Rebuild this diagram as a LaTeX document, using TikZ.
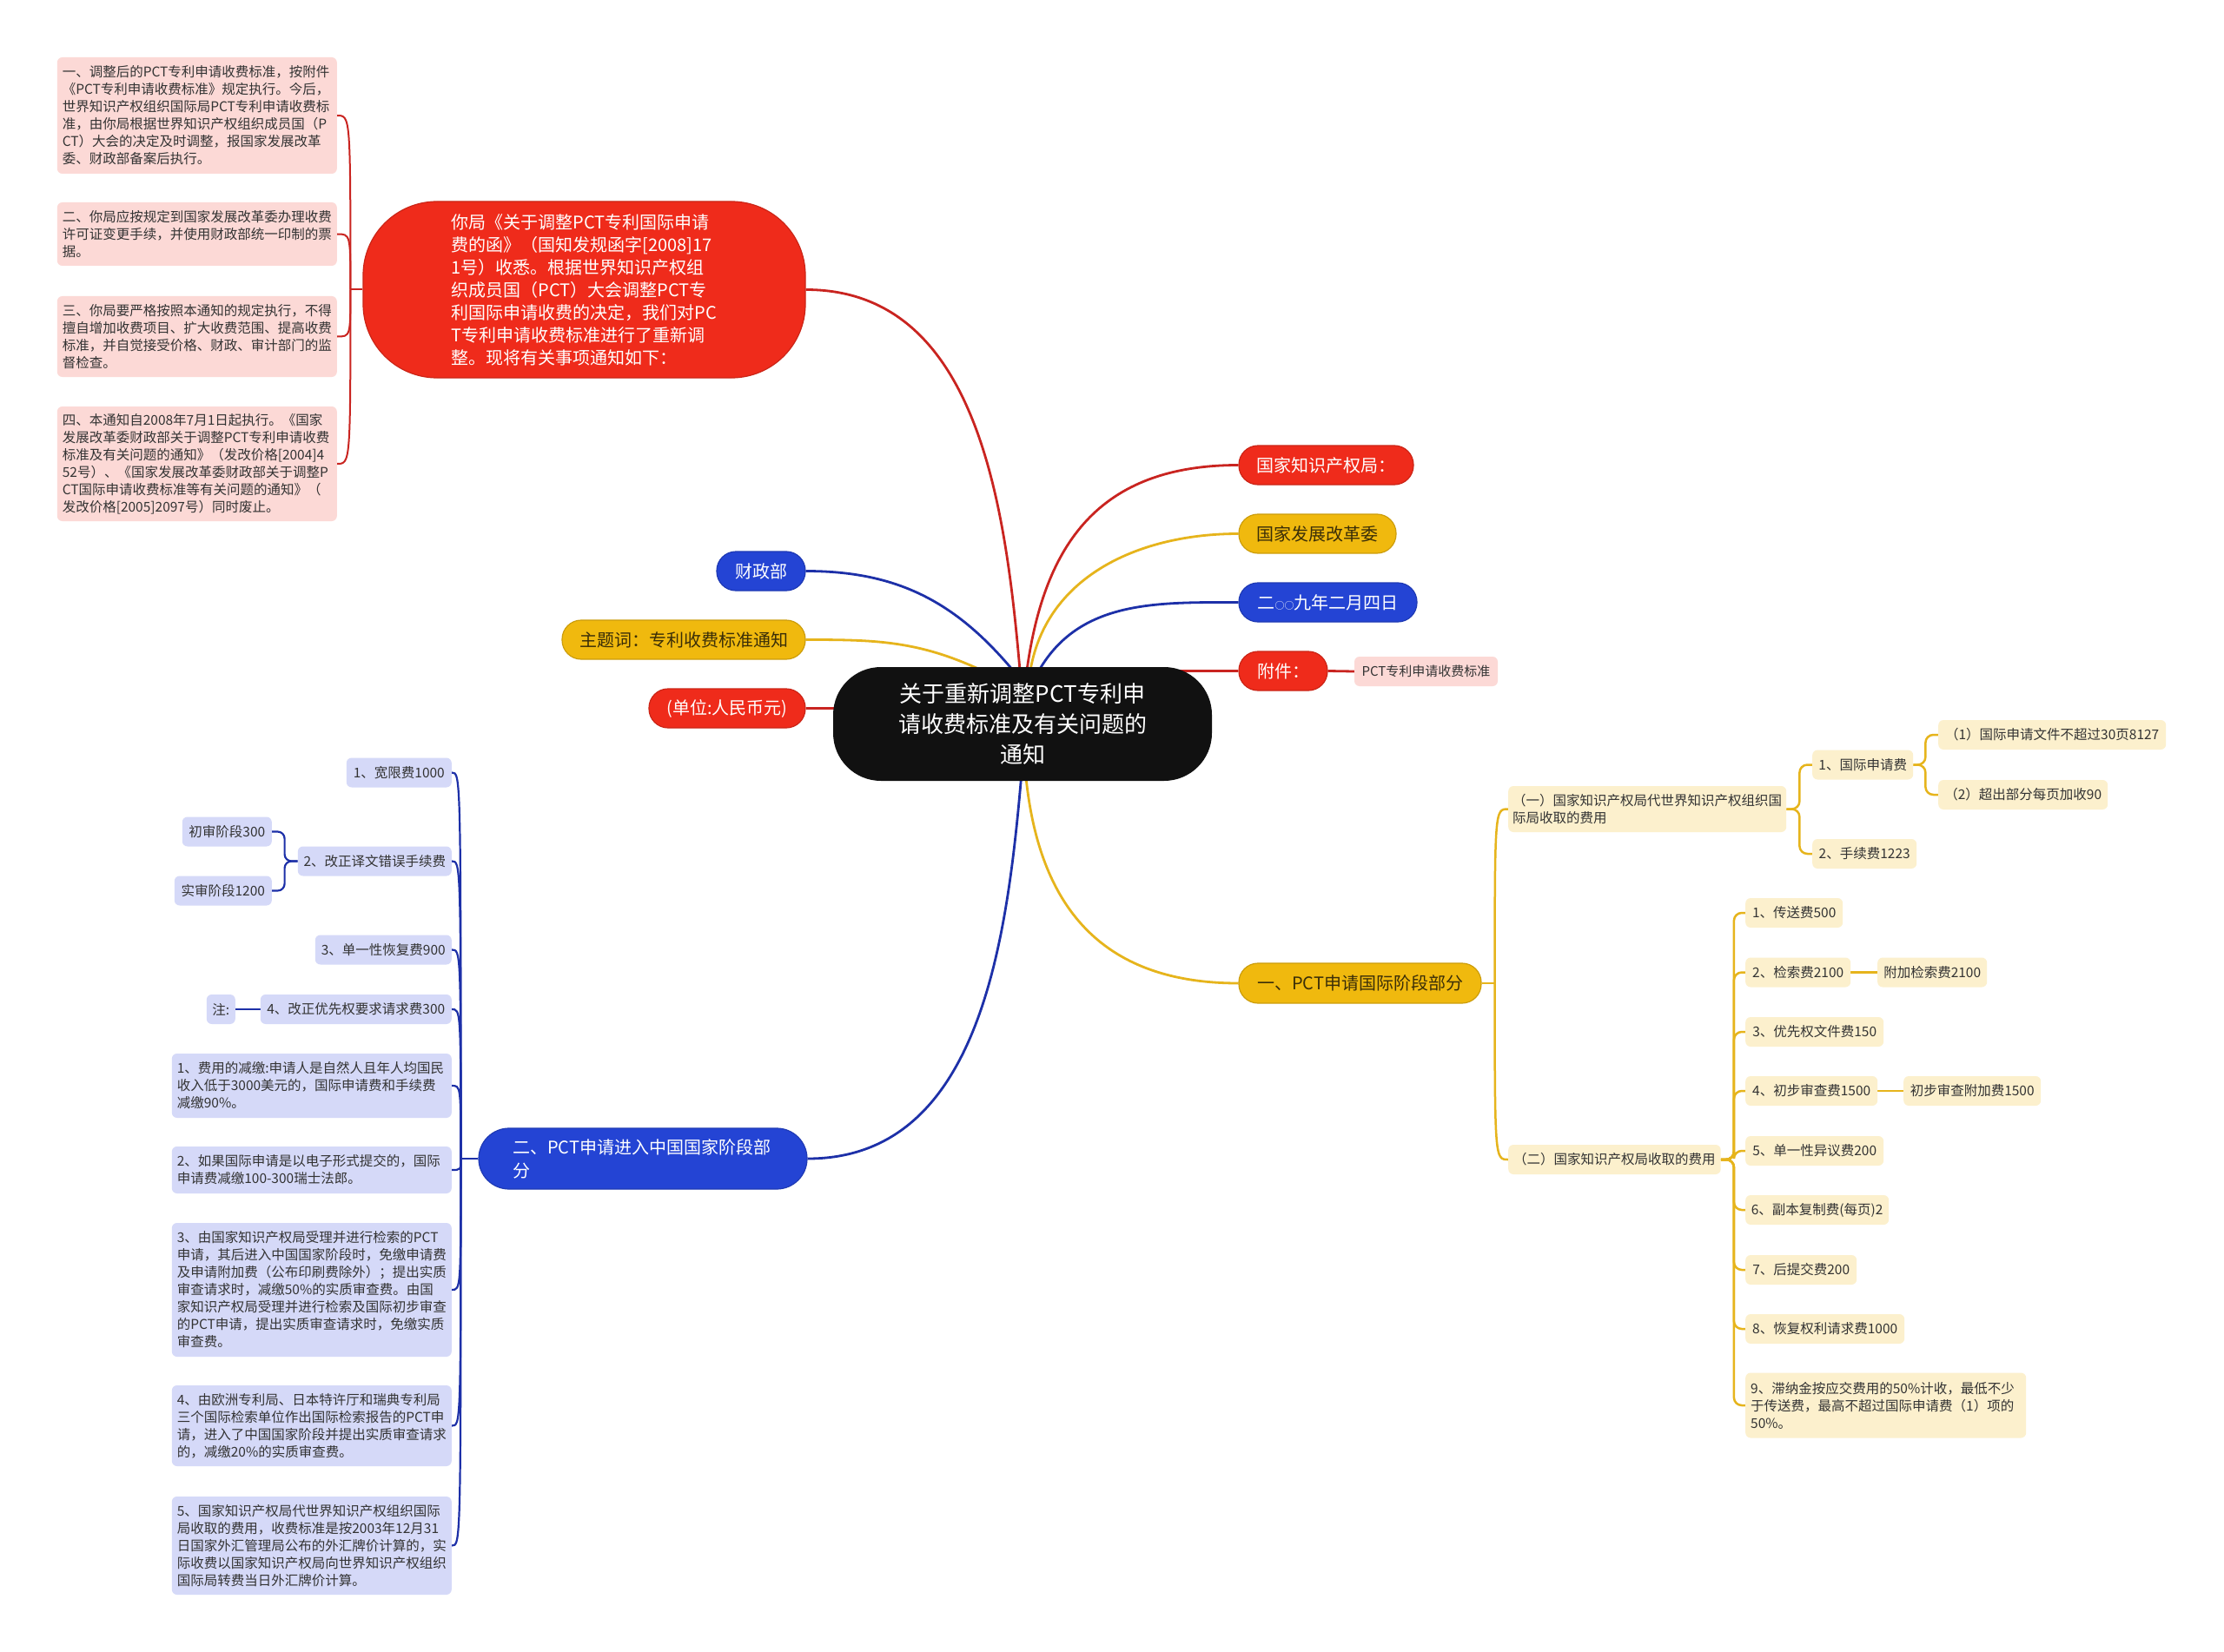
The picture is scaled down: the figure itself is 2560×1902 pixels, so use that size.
\documentclass[tikz,border=0pt]{standalone}
\usepackage{fontspec}
\setmainfont{Noto Sans CJK SC}
\usetikzlibrary{backgrounds,calc}
\definecolor{cRed}{HTML}{EF2B1B}
\definecolor{cRedLine}{HTML}{C92420}
\definecolor{cYel}{HTML}{F0B90E}
\definecolor{cYelLine}{HTML}{E6B41C}
\definecolor{cBlue}{HTML}{2444D4}
\definecolor{cBlueLine}{HTML}{1D30A8}
\definecolor{cBlack}{HTML}{111111}
\definecolor{cPink}{HTML}{FCD9D6}
\definecolor{cLav}{HTML}{D5D9F8}
\definecolor{cLYel}{HTML}{FCF0CD}
\definecolor{cText}{HTML}{333333}
\definecolor{cDark}{HTML}{3A2E08}
\tikzset{
  rootbox/.style={fill=cBlack, text=white, rounded corners=55pt, inner sep=0pt,
    font=\fontsize{26pt}{35pt}\selectfont, align=center},
  bigred/.style={fill=cRed, draw=cRed!85!black, line width=1.2pt, text=white, rounded corners=85pt,
    inner sep=0pt, font=\fontsize{20pt}{26pt}\selectfont, align=left},
  pill/.style={rounded corners=22pt, inner xsep=12pt, inner ysep=0pt, minimum height=45pt,
    line width=1.2pt, font=\fontsize{20pt}{27pt}\selectfont},
  redpill/.style={pill, fill=cRed, draw=cRed!85!black, text=white},
  yelpill/.style={pill, fill=cYel, draw=cYel!85!black, text=cDark},
  bluepill/.style={pill, fill=cBlue, draw=cBlue!85!black, text=white},
  leaf/.style={rounded corners=6pt, inner xsep=6pt, inner ysep=0pt, minimum height=34pt,
    text=cText, font=\fontsize{15.5pt}{20pt}\selectfont},
  pinkleaf/.style={leaf, fill=cPink},
  lavleaf/.style={leaf, fill=cLav},
  yelleaf/.style={leaf, fill=cLYel},
  mainR/.style={draw=cRedLine, line width=2.8pt},
  mainY/.style={draw=cYelLine, line width=2.8pt},
  mainB/.style={draw=cBlueLine, line width=2.8pt},
  subR/.style={draw=cRedLine, line width=2pt},
  subY/.style={draw=cYelLine, line width=2.5pt},
  subB/.style={draw=cBlueLine, line width=2.2pt},
}
\begin{document}
\begin{tikzpicture}[x=1pt,y=-1pt]
\useasboundingbox (0,0) rectangle (2560,1902);

% ---------- root ----------
\node[rootbox, minimum width=436pt, minimum height=131pt] (root) at (1177,833.5)
  {关于重新调整PCT专利申\\请收费标准及有关问题的\\通知};

% ---------- red big ----------
\node[bigred, minimum width=509pt, minimum height=203pt] (rb) at (672.5,333.5)
  {你局《关于调整PCT专利国际申请\\费的函》（国知发规函字[2008]17\\1号）收悉。根据世界知识产权组\\织成员国（PCT）大会调整PCT专\\利国际申请收费的决定，我们对PC\\T专利申请收费标准进行了重新调\\整。现将有关事项通知如下：};

% pink notes
\node[pinkleaf, anchor=east, text width=310pt, align=left, minimum height=134pt] (n1) at (388,133)
  {一、调整后的PCT专利申请收费标准，按附件\\《PCT专利申请收费标准》规定执行。今后，\\世界知识产权组织国际局PCT专利申请收费标\\准，由你局根据世界知识产权组织成员国（P\\CT）大会的决定及时调整，报国家发展改革\\委、财政部备案后执行。};
\node[pinkleaf, anchor=east, text width=310pt, align=left, minimum height=73pt] (n2) at (388,269.5)
  {二、你局应按规定到国家发展改革委办理收费\\许可证变更手续，并使用财政部统一印制的票\\据。};
\node[pinkleaf, anchor=east, text width=310pt, align=left, minimum height=93pt] (n3) at (388,387.5)
  {三、你局要严格按照本通知的规定执行，不得\\擅自增加收费项目、扩大收费范围、提高收费\\标准，并自觉接受价格、财政、审计部门的监\\督检查。};
\node[pinkleaf, anchor=east, text width=310pt, align=left, minimum height=132pt] (n4) at (388,534)
  {四、本通知自2008年7月1日起执行。《国家\\发展改革委财政部关于调整PCT专利申请收费\\标准及有关问题的通知》（发改价格[2004]4\\52号）、《国家发展改革委财政部关于调整P\\CT国际申请收费标准等有关问题的通知》（\\发改价格[2005]2097号）同时废止。};

% ---------- first level pills ----------
\node[redpill, minimum width=201pt] (ip) at (1526.5,535.5) {国家知识产权局：};
\node[yelpill, minimum width=181pt] (fg) at (1516.5,614.5) {国家发展改革委};
\node[bluepill, minimum width=205pt] (dt) at (1528.5,693.5) {二{\fontsize{11pt}{11pt}\selectfont ○○}九年二月四日};
\node[redpill, minimum width=102pt] (fj) at (1477,772.5) {附件：};
\node[pinkleaf, minimum width=165pt, font=\fontsize{15pt}{20pt}\selectfont] (std) at (1641.5,773) {PCT专利申请收费标准};
\node[bluepill, minimum width=102pt] (cz) at (876,657.5) {财政部};
\node[yelpill, minimum width=280pt] (zt) at (787,736.5) {主题词：专利收费标准通知};
\node[redpill, minimum width=180pt] (dw) at (837,815.5) {(单位:人民币元)};
\node[yelpill, minimum width=279pt, minimum height=46pt] (one) at (1565.5,1132) {一、PCT申请国际阶段部分};
\node[bluepill, minimum width=378pt, minimum height=70pt, rounded corners=35pt, text width=300pt, align=left] (two) at (740,1334)
  {二、PCT申请进入中国国家阶段部\\分};

% ---------- blue list ----------
\node[lavleaf, anchor=east, minimum width=121pt] (b1) at (520,889.5) {1、宽限费1000};
\node[lavleaf, anchor=east, minimum width=177pt] (b2) at (520,991.5) {2、改正译文错误手续费};
\node[lavleaf, anchor=east, minimum width=103pt] (b2a) at (313,957.5) {初审阶段300};
\node[lavleaf, anchor=east, minimum width=112pt] (b2b) at (313,1025.5) {实审阶段1200};
\node[lavleaf, anchor=east, minimum width=157pt] (b3) at (520,1093.5) {3、单一性恢复费900};
\node[lavleaf, anchor=east, minimum width=220pt] (b4) at (520,1162) {4、改正优先权要求请求费300};
\node[lavleaf, anchor=east, minimum width=33pt, inner xsep=4pt] (b4a) at (271,1162) {注:};
\node[lavleaf, anchor=east, text width=310pt, align=left, minimum height=74pt] (b5) at (520,1250)
  {1、费用的减缴:申请人是自然人且年人均国民\\收入低于3000美元的，国际申请费和手续费\\减缴90\%。};
\node[lavleaf, anchor=east, text width=310pt, align=left, minimum height=54pt] (b6) at (520,1347)
  {2、如果国际申请是以电子形式提交的，国际\\申请费减缴100-300瑞士法郎。};
\node[lavleaf, anchor=east, text width=310pt, align=left, minimum height=154pt] (b7) at (520,1485)
  {3、由国家知识产权局受理并进行检索的PCT\\申请，其后进入中国国家阶段时，免缴申请费\\及申请附加费（公布印刷费除外）；提出实质\\审查请求时，减缴50\%的实质审查费。由国\\家知识产权局受理并进行检索及国际初步审查\\的PCT申请，提出实质审查请求时，免缴实质\\审查费。};
\node[lavleaf, anchor=east, text width=310pt, align=left, minimum height=93pt] (b8) at (520,1641.5)
  {4、由欧洲专利局、日本特许厅和瑞典专利局\\三个国际检索单位作出国际检索报告的PCT申\\请，进入了中国国家阶段并提出实质审查请求\\的，减缴20\%的实质审查费。};
\node[lavleaf, anchor=east, text width=310pt, align=left, minimum height=113pt] (b9) at (520,1779.5)
  {5、国家知识产权局代世界知识产权组织国际\\局收取的费用，收费标准是按2003年12月31\\日国家外汇管理局公布的外汇牌价计算的，实\\际收费以国家知识产权局向世界知识产权组织\\国际局转费当日外汇牌价计算。};

% ---------- yellow list ----------
\node[yelleaf, anchor=west, text width=310pt, align=left, minimum height=53pt, inner xsep=5pt] (y1) at (1736,931.5)
  {（一）国家知识产权局代世界知识产权组织国\\际局收取的费用};
\node[yelleaf, anchor=west, minimum width=116pt] (y1a) at (2086,880.5) {1、国际申请费};
\node[yelleaf, anchor=west, minimum width=262pt] (y1a1) at (2231,846) {（1）国际申请文件不超过30页8127};
\node[yelleaf, anchor=west, minimum width=195pt] (y1a2) at (2231,915) {（2）超出部分每页加收90};
\node[yelleaf, anchor=west, minimum width=120pt] (y1b) at (2086,983) {2、手续费1223};
\node[yelleaf, anchor=west, minimum width=244pt] (y2) at (1736,1335) {（二）国家知识产权局收取的费用};
\node[yelleaf, anchor=west, minimum width=112pt] (c1) at (2009,1051) {1、传送费500};
\node[yelleaf, anchor=west, minimum width=121pt] (c2) at (2009,1119.5) {2、检索费2100};
\node[yelleaf, anchor=west, minimum width=126pt] (c2a) at (2161,1119.5) {附加检索费2100};
\node[yelleaf, anchor=west, minimum width=159pt] (c3) at (2009,1188) {3、优先权文件费150};
\node[yelleaf, anchor=west, minimum width=152pt] (c4) at (2009,1256) {4、初步审查费1500};
\node[yelleaf, anchor=west, minimum width=158pt] (c4a) at (2191,1256) {初步审查附加费1500};
\node[yelleaf, anchor=west, minimum width=159pt] (c5) at (2009,1325) {5、单一性异议费200};
\node[yelleaf, anchor=west, minimum width=165pt] (c6) at (2009,1393) {6、副本复制费(每页)2};
\node[yelleaf, anchor=west, minimum width=128pt] (c7) at (2009,1462) {7、后提交费200};
\node[yelleaf, anchor=west, minimum width=183pt] (c8) at (2009,1530) {8、恢复权利请求费1000};
\node[yelleaf, anchor=west, text width=311pt, align=left, minimum height=75pt] (c9) at (2009,1618)
  {9、滞纳金按应交费用的50\%计收，最低不少\\于传送费，最高不超过国际申请费（1）项的\\50\%。};

% ---------- connectors ----------
\begin{scope}[on background layer]
  \fill[white] (0,0) rectangle (2560,1902);
  % from root, upward
  \coordinate (s-zt) at ($(root.north)+(-47,4)$);
  \coordinate (s-cz) at ($(root.north)+(-11,4)$);
  \coordinate (s-rb) at ($(root.north)+(-3,4)$);
  \coordinate (s-ip) at ($(root.north)+(5,4)$);
  \coordinate (s-fg) at ($(root.north)+(9,4)$);
  \coordinate (s-dt) at ($(root.north)+(19,4)$);
  \draw[mainY] (zt.east) .. controls ($(zt.east)+(81,0)$) and ($(s-zt)+(-73,-34)$) .. (s-zt);
  \draw[mainB] (cz.east) .. controls ($(cz.east)+(104,0)$) and ($(s-cz)+(-67,-80)$) .. (s-cz);
  \draw[mainR] (rb.east) .. controls ($(rb.east)+(196,0)$) and ($(s-rb)+(-17,-195)$) .. (s-rb);
  \draw[mainR] (s-ip) .. controls ($(s-ip)+(20,-145)$) and ($(ip.west)+(-161,0)$) .. (ip.west);
  \draw[mainY] (s-fg) .. controls ($(s-fg)+(19,-110)$) and ($(fg.west)+(-112,0)$) .. (fg.west);
  \draw[mainB] (s-dt) .. controls ($(s-dt)+(47,-81)$) and ($(dt.west)+(-94,0)$) .. (dt.west);
  \draw[mainR] (fj.west) -- (fj.west -| root.center);
  \draw[mainR] (fj.east) -- (std.west);
  \draw[mainR] (dw.east) -- (dw.east -| root.center);
  % from root, downward
  \coordinate (s-one) at ($(root.south)+(4,-4)$);
  \coordinate (s-two) at ($(root.south)+(-1.5,-4)$);
  \draw[mainY] (s-one) .. controls ($(s-one)+(15,145)$) and ($(one.west)+(-161,0)$) .. (one.west);
  \draw[mainB] (s-two) .. controls ($(s-two)+(-17,195)$) and ($(two.east)+(196,0)$) .. (two.east);

  % red big -> notes
  \draw[subR] (rb.west) -- ++(-14,0) coordinate (rbt);
  \foreach \n in {n1,n2,n3,n4}
    \draw[subR] (rbt) .. controls (rbt |- \n.east) .. (\n.east);

  % blue list
  \draw[subB] (two.west) -- ++(-20,0) coordinate (twt);
  \foreach \n in {b1,b2,b3,b4,b5,b6,b7,b8,b9}
    \draw[subB] (twt) .. controls (twt |- \n.east) .. (\n.east);
  \draw[subB, rounded corners=8pt] (b2.west) -- ++(-15,0) |- (b2a.east);
  \draw[subB, rounded corners=8pt] (b2.west) -- ++(-15,0) |- (b2b.east);
  \draw[subB] (b4.west) -- (b4a.east);

  % yellow list
  \draw[subY] (one.east) -- ++(15,0) coordinate (ont);
  \foreach \n in {y1,y2}
    \draw[subY] (ont) .. controls (ont |- \n.west) .. (\n.west);
  \foreach \n in {y1a,y1b}
    \draw[subY, rounded corners=9pt] (y1.east) -- ++(15,0) |- (\n.west);
  \foreach \n in {y1a1,y1a2}
    \draw[subY, rounded corners=9pt] (y1a.east) -- ++(14,0) |- (\n.west);
  \foreach \n in {c1,c2,c3,c4,c5,c6,c7,c8,c9}
    \draw[subY, rounded corners=9pt] (y2.east) -- ++(15,0) |- (\n.west);
  \draw[subY] (c2.east) -- (c2a.west);
  \draw[subY] (c4.east) -- (c4a.west);
\end{scope}
\end{tikzpicture}
\end{document}
